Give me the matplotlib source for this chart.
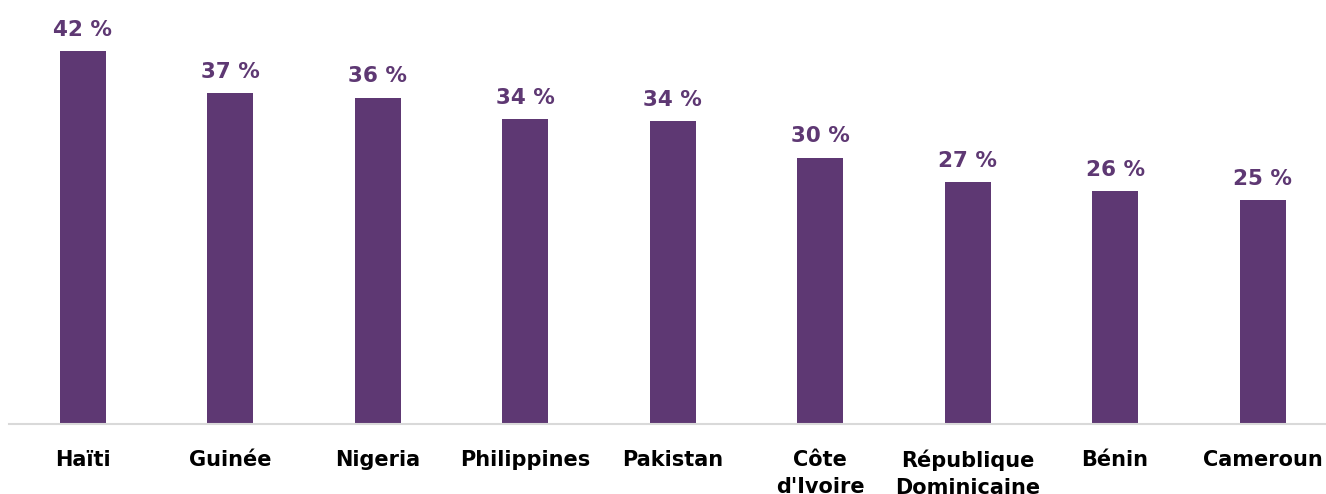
import matplotlib
matplotlib.use("Agg")
import matplotlib.pyplot as plt

# données
pays = ["Haïti", "Guinée", "Nigeria", "Philippines", "Pakistan",
        "Côte\nd'Ivoire", "République\nDominicaine", "Bénin", "Cameroun"]
valeurs = [41.6, 36.9, 36.4, 34.0, 33.8, 29.7, 27.0, 26.0, 25.0]

violet = "#5e3873"

plt.rcParams['font.family'] = ['DejaVu Sans']

fig = plt.figure(figsize=(13.26, 4.94), dpi=100)
ax = fig.add_axes([9 / 1326, 70 / 494, 1317 / 1326, 424 / 494])

x = list(range(len(pays)))
ax.bar(x, valeurs, width=0.312, color=violet)

for xi, v in zip(x, valeurs):
    ax.annotate(f"{v:.0f} %", (xi, v), xytext=(0, 11), textcoords="offset points",
                ha="center", va="baseline", fontsize=15.5, fontweight="bold",
                color=violet)

ax.set_xlim(-0.5, 8.43)
ax.set_ylim(0, 47.3)
ax.set_xticks(x)
ax.set_xticklabels(pays, fontsize=15, fontweight="bold", color="black",
                   va="top", linespacing=1.45)
ax.tick_params(axis="x", length=0, pad=18.5)
ax.set_yticks([])

for s in ["top", "left", "right"]:
    ax.spines[s].set_visible(False)
ax.spines["bottom"].set_color("#d9d9d9")
ax.spines["bottom"].set_linewidth(1.5)

fig.savefig("out.png", dpi=100)
